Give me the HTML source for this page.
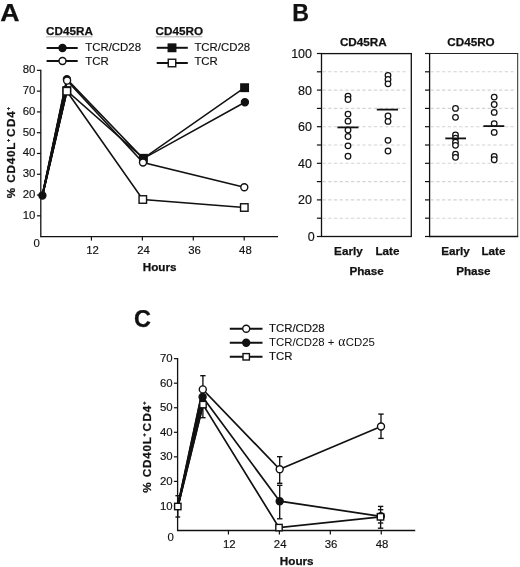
<!DOCTYPE html>
<html><head><meta charset="utf-8"><title>Figure</title>
<style>
html,body{margin:0;padding:0;background:#fff;}
body{width:520px;height:567px;overflow:hidden;}
svg{display:block;will-change:transform;}
svg text{font-family:"Liberation Sans",sans-serif;fill:#111;}
</style></head><body>
<svg width="520" height="567" viewBox="0 0 520 567">
<rect x="0" y="0" width="520" height="567" fill="#ffffff"/>
<text x="0.30" y="20.60" text-anchor="start" font-size="23.5" font-weight="700" stroke="#111" stroke-width="0.25" textLength="19.3" lengthAdjust="spacingAndGlyphs">A</text>
<line x1="40.80" y1="69.75" x2="40.80" y2="237.25" stroke="#111" stroke-width="1.3" />
<line x1="40.80" y1="236.60" x2="278.00" y2="236.60" stroke="#111" stroke-width="1.3" />
<line x1="36.90" y1="215.82" x2="40.80" y2="215.82" stroke="#111" stroke-width="1.2" />
<text x="35.40" y="218.72" text-anchor="end" font-size="11.4" stroke="#111" stroke-width="0.15" >10</text>
<line x1="36.90" y1="195.04" x2="40.80" y2="195.04" stroke="#111" stroke-width="1.2" />
<text x="35.40" y="197.94" text-anchor="end" font-size="11.4" stroke="#111" stroke-width="0.15" >20</text>
<line x1="36.90" y1="174.26" x2="40.80" y2="174.26" stroke="#111" stroke-width="1.2" />
<text x="35.40" y="177.16" text-anchor="end" font-size="11.4" stroke="#111" stroke-width="0.15" >30</text>
<line x1="36.90" y1="153.48" x2="40.80" y2="153.48" stroke="#111" stroke-width="1.2" />
<text x="35.40" y="156.38" text-anchor="end" font-size="11.4" stroke="#111" stroke-width="0.15" >40</text>
<line x1="36.90" y1="132.70" x2="40.80" y2="132.70" stroke="#111" stroke-width="1.2" />
<text x="35.40" y="135.60" text-anchor="end" font-size="11.4" stroke="#111" stroke-width="0.15" >50</text>
<line x1="36.90" y1="111.92" x2="40.80" y2="111.92" stroke="#111" stroke-width="1.2" />
<text x="35.40" y="114.82" text-anchor="end" font-size="11.4" stroke="#111" stroke-width="0.15" >60</text>
<line x1="36.90" y1="91.14" x2="40.80" y2="91.14" stroke="#111" stroke-width="1.2" />
<text x="35.40" y="94.04" text-anchor="end" font-size="11.4" stroke="#111" stroke-width="0.15" >70</text>
<line x1="36.90" y1="70.36" x2="40.80" y2="70.36" stroke="#111" stroke-width="1.2" />
<text x="35.40" y="73.26" text-anchor="end" font-size="11.4" stroke="#111" stroke-width="0.15" >80</text>
<line x1="91.43" y1="236.60" x2="91.43" y2="240.60" stroke="#111" stroke-width="1.2" />
<text x="92.63" y="253.60" text-anchor="middle" font-size="11.4" stroke="#111" stroke-width="0.15" >12</text>
<line x1="142.36" y1="236.60" x2="142.36" y2="240.60" stroke="#111" stroke-width="1.2" />
<text x="143.56" y="253.60" text-anchor="middle" font-size="11.4" stroke="#111" stroke-width="0.15" >24</text>
<line x1="193.28" y1="236.60" x2="193.28" y2="240.60" stroke="#111" stroke-width="1.2" />
<text x="194.48" y="253.60" text-anchor="middle" font-size="11.4" stroke="#111" stroke-width="0.15" >36</text>
<line x1="244.21" y1="236.60" x2="244.21" y2="240.60" stroke="#111" stroke-width="1.2" />
<text x="245.41" y="253.60" text-anchor="middle" font-size="11.4" stroke="#111" stroke-width="0.15" >48</text>
<text x="36.60" y="247.40" text-anchor="middle" font-size="11.4" stroke="#111" stroke-width="0.15" >0</text>
<text x="159.60" y="270.70" text-anchor="middle" font-size="11.7" font-weight="700" stroke="#111" stroke-width="0.25" >Hours</text>
<text transform="translate(14.5,198.3) rotate(-90)" font-size="11.7" font-weight="700" stroke="#111" stroke-width="0.25" letter-spacing="0.75">%<tspan dx="4.4">CD40L</tspan><tspan font-size="5.5" dy="-4.6" dx="0.0">+</tspan><tspan dy="4.6" dx="0.9">C</tspan><tspan dx="0.9">D4</tspan><tspan font-size="5.5" dy="-4.6" dx="0.2">+</tspan></text>
<text x="46.10" y="34.90" text-anchor="start" font-size="11.7" font-weight="700" stroke="#111" stroke-width="0.25" >CD45RA</text>
<line x1="46.10" y1="36.80" x2="92.40" y2="36.80" stroke="#999" stroke-width="0.8" />
<text x="155.60" y="34.90" text-anchor="start" font-size="11.7" font-weight="700" stroke="#111" stroke-width="0.25" >CD45RO</text>
<line x1="155.60" y1="36.80" x2="202.40" y2="36.80" stroke="#999" stroke-width="0.8" />
<line x1="46.60" y1="48.00" x2="77.70" y2="48.00" stroke="#111" stroke-width="2.0" />
<circle cx="62.50" cy="48.00" r="3.5" fill="#111" stroke="#111" stroke-width="1.4"/>
<line x1="46.60" y1="61.00" x2="77.70" y2="61.00" stroke="#111" stroke-width="2.0" />
<circle cx="62.50" cy="61.00" r="3.5" fill="#fff" stroke="#111" stroke-width="1.4"/>
<text x="85.30" y="51.20" text-anchor="start" font-size="11.4" stroke="#111" stroke-width="0.15" >TCR/CD28</text>
<text x="85.30" y="64.50" text-anchor="start" font-size="11.4" stroke="#111" stroke-width="0.15" >TCR</text>
<line x1="156.70" y1="47.80" x2="187.80" y2="47.80" stroke="#111" stroke-width="2.0" />
<rect x="168.25" y="44.05" width="7.5" height="7.5" fill="#111" stroke="#111" stroke-width="1.4"/>
<line x1="156.70" y1="63.00" x2="187.80" y2="63.00" stroke="#111" stroke-width="2.0" />
<rect x="168.25" y="59.25" width="7.5" height="7.5" fill="#fff" stroke="#111" stroke-width="1.4"/>
<text x="194.40" y="51.20" text-anchor="start" font-size="11.4" stroke="#111" stroke-width="0.15" >TCR/CD28</text>
<text x="194.40" y="64.50" text-anchor="start" font-size="11.4" stroke="#111" stroke-width="0.15" >TCR</text>
<polyline points="42.40,195.50 66.80,90.60 143.40,158.30 244.60,87.70" fill="none" stroke="#111" stroke-width="1.55" stroke-linejoin="miter"/>
<polyline points="42.40,195.50 66.90,79.20 143.20,158.60 244.90,102.20" fill="none" stroke="#111" stroke-width="1.55" stroke-linejoin="miter"/>
<polyline points="42.40,195.50 66.80,91.20 142.80,199.50 244.30,207.50" fill="none" stroke="#111" stroke-width="1.55" stroke-linejoin="miter"/>
<polyline points="42.40,195.50 67.10,80.60 143.00,162.50 244.30,187.30" fill="none" stroke="#111" stroke-width="1.55" stroke-linejoin="miter"/>
<polyline points="42.40,195.50 66.80,90.60" fill="none" stroke="#111" stroke-width="1.95" stroke-linejoin="miter"/>
<polyline points="42.40,195.50 66.90,79.20" fill="none" stroke="#111" stroke-width="1.95" stroke-linejoin="miter"/>
<polyline points="42.40,195.50 66.80,91.20" fill="none" stroke="#111" stroke-width="1.95" stroke-linejoin="miter"/>
<polyline points="42.40,195.50 67.10,80.60" fill="none" stroke="#111" stroke-width="1.95" stroke-linejoin="miter"/>
<circle cx="42.40" cy="195.50" r="3.5" fill="#111" stroke="#111" stroke-width="1.4"/>
<rect x="63.05" y="86.85" width="7.5" height="7.5" fill="#111" stroke="#111" stroke-width="1.4"/>
<rect x="139.65" y="154.55" width="7.5" height="7.5" fill="#111" stroke="#111" stroke-width="1.4"/>
<rect x="240.85" y="83.95" width="7.5" height="7.5" fill="#111" stroke="#111" stroke-width="1.4"/>
<circle cx="66.90" cy="79.20" r="3.5" fill="#111" stroke="#111" stroke-width="1.4"/>
<circle cx="143.20" cy="158.60" r="3.5" fill="#111" stroke="#111" stroke-width="1.4"/>
<circle cx="244.90" cy="102.20" r="3.5" fill="#111" stroke="#111" stroke-width="1.4"/>
<rect x="63.05" y="87.45" width="7.5" height="7.5" fill="#fff" stroke="#111" stroke-width="1.4"/>
<rect x="139.05" y="195.75" width="7.5" height="7.5" fill="#fff" stroke="#111" stroke-width="1.4"/>
<rect x="240.55" y="203.75" width="7.5" height="7.5" fill="#fff" stroke="#111" stroke-width="1.4"/>
<circle cx="67.10" cy="80.60" r="3.5" fill="#fff" stroke="#111" stroke-width="1.4"/>
<circle cx="143.00" cy="162.50" r="3.5" fill="#fff" stroke="#111" stroke-width="1.4"/>
<circle cx="244.30" cy="187.30" r="3.5" fill="#fff" stroke="#111" stroke-width="1.4"/>
<text x="292.20" y="21.00" text-anchor="start" font-size="23.2" font-weight="700" stroke="#111" stroke-width="0.25" >B</text>
<line x1="322.50" y1="218.20" x2="408.30" y2="218.20" stroke="#d4d4d4" stroke-width="1.1" stroke-dasharray="3.3 2.4"/>
<line x1="322.50" y1="199.90" x2="408.30" y2="199.90" stroke="#d4d4d4" stroke-width="1.1" stroke-dasharray="3.3 2.4"/>
<line x1="322.50" y1="181.60" x2="408.30" y2="181.60" stroke="#d4d4d4" stroke-width="1.1" stroke-dasharray="3.3 2.4"/>
<line x1="322.50" y1="163.30" x2="408.30" y2="163.30" stroke="#d4d4d4" stroke-width="1.1" stroke-dasharray="3.3 2.4"/>
<line x1="322.50" y1="145.00" x2="408.30" y2="145.00" stroke="#d4d4d4" stroke-width="1.1" stroke-dasharray="3.3 2.4"/>
<line x1="322.50" y1="126.70" x2="408.30" y2="126.70" stroke="#d4d4d4" stroke-width="1.1" stroke-dasharray="3.3 2.4"/>
<line x1="322.50" y1="108.40" x2="408.30" y2="108.40" stroke="#d4d4d4" stroke-width="1.1" stroke-dasharray="3.3 2.4"/>
<line x1="322.50" y1="90.10" x2="408.30" y2="90.10" stroke="#d4d4d4" stroke-width="1.1" stroke-dasharray="3.3 2.4"/>
<line x1="322.50" y1="71.80" x2="408.30" y2="71.80" stroke="#d4d4d4" stroke-width="1.1" stroke-dasharray="3.3 2.4"/>
<rect x="321.5" y="53.6" width="89.80000000000001" height="182.9" fill="none" stroke="#111" stroke-width="1.3"/>
<line x1="316.90" y1="236.50" x2="321.50" y2="236.50" stroke="#111" stroke-width="1.2" />
<line x1="316.90" y1="218.20" x2="321.50" y2="218.20" stroke="#111" stroke-width="1.2" />
<line x1="316.90" y1="199.90" x2="321.50" y2="199.90" stroke="#111" stroke-width="1.2" />
<line x1="316.90" y1="181.60" x2="321.50" y2="181.60" stroke="#111" stroke-width="1.2" />
<line x1="316.90" y1="163.30" x2="321.50" y2="163.30" stroke="#111" stroke-width="1.2" />
<line x1="316.90" y1="145.00" x2="321.50" y2="145.00" stroke="#111" stroke-width="1.2" />
<line x1="316.90" y1="126.70" x2="321.50" y2="126.70" stroke="#111" stroke-width="1.2" />
<line x1="316.90" y1="108.40" x2="321.50" y2="108.40" stroke="#111" stroke-width="1.2" />
<line x1="316.90" y1="90.10" x2="321.50" y2="90.10" stroke="#111" stroke-width="1.2" />
<line x1="316.90" y1="71.80" x2="321.50" y2="71.80" stroke="#111" stroke-width="1.2" />
<line x1="316.90" y1="53.50" x2="321.50" y2="53.50" stroke="#111" stroke-width="1.2" />
<text x="363.30" y="46.10" text-anchor="middle" font-size="11.7" font-weight="700" stroke="#111" stroke-width="0.25" >CD45RA</text>
<line x1="430.60" y1="218.20" x2="514.70" y2="218.20" stroke="#d4d4d4" stroke-width="1.1" stroke-dasharray="3.3 2.4"/>
<line x1="430.60" y1="199.90" x2="514.70" y2="199.90" stroke="#d4d4d4" stroke-width="1.1" stroke-dasharray="3.3 2.4"/>
<line x1="430.60" y1="181.60" x2="514.70" y2="181.60" stroke="#d4d4d4" stroke-width="1.1" stroke-dasharray="3.3 2.4"/>
<line x1="430.60" y1="163.30" x2="514.70" y2="163.30" stroke="#d4d4d4" stroke-width="1.1" stroke-dasharray="3.3 2.4"/>
<line x1="430.60" y1="145.00" x2="514.70" y2="145.00" stroke="#d4d4d4" stroke-width="1.1" stroke-dasharray="3.3 2.4"/>
<line x1="430.60" y1="126.70" x2="514.70" y2="126.70" stroke="#d4d4d4" stroke-width="1.1" stroke-dasharray="3.3 2.4"/>
<line x1="430.60" y1="108.40" x2="514.70" y2="108.40" stroke="#d4d4d4" stroke-width="1.1" stroke-dasharray="3.3 2.4"/>
<line x1="430.60" y1="90.10" x2="514.70" y2="90.10" stroke="#d4d4d4" stroke-width="1.1" stroke-dasharray="3.3 2.4"/>
<line x1="430.60" y1="71.80" x2="514.70" y2="71.80" stroke="#d4d4d4" stroke-width="1.1" stroke-dasharray="3.3 2.4"/>
<line x1="429.60" y1="53.50" x2="518.20" y2="53.50" stroke="#222" stroke-width="1.0" />
<line x1="517.70" y1="53.50" x2="517.70" y2="236.50" stroke="#2a2a2a" stroke-width="1.0" />
<line x1="429.60" y1="53.10" x2="429.60" y2="237.15" stroke="#111" stroke-width="1.3" />
<line x1="429.60" y1="236.50" x2="518.20" y2="236.50" stroke="#111" stroke-width="1.3" />
<line x1="425.00" y1="236.50" x2="429.60" y2="236.50" stroke="#111" stroke-width="1.2" />
<line x1="425.00" y1="218.20" x2="429.60" y2="218.20" stroke="#111" stroke-width="1.2" />
<line x1="425.00" y1="199.90" x2="429.60" y2="199.90" stroke="#111" stroke-width="1.2" />
<line x1="425.00" y1="181.60" x2="429.60" y2="181.60" stroke="#111" stroke-width="1.2" />
<line x1="425.00" y1="163.30" x2="429.60" y2="163.30" stroke="#111" stroke-width="1.2" />
<line x1="425.00" y1="145.00" x2="429.60" y2="145.00" stroke="#111" stroke-width="1.2" />
<line x1="425.00" y1="126.70" x2="429.60" y2="126.70" stroke="#111" stroke-width="1.2" />
<line x1="425.00" y1="108.40" x2="429.60" y2="108.40" stroke="#111" stroke-width="1.2" />
<line x1="425.00" y1="90.10" x2="429.60" y2="90.10" stroke="#111" stroke-width="1.2" />
<line x1="425.00" y1="71.80" x2="429.60" y2="71.80" stroke="#111" stroke-width="1.2" />
<line x1="425.00" y1="53.50" x2="429.60" y2="53.50" stroke="#111" stroke-width="1.2" />
<text x="471.00" y="46.10" text-anchor="middle" font-size="11.7" font-weight="700" stroke="#111" stroke-width="0.25" >CD45RO</text>
<text x="314.60" y="240.90" text-anchor="end" font-size="12.5" stroke="#111" stroke-width="0.15" >0</text>
<text x="312.00" y="204.30" text-anchor="end" font-size="12.5" stroke="#111" stroke-width="0.15" >20</text>
<text x="312.00" y="167.70" text-anchor="end" font-size="12.5" stroke="#111" stroke-width="0.15" >40</text>
<text x="312.00" y="131.10" text-anchor="end" font-size="12.5" stroke="#111" stroke-width="0.15" >60</text>
<text x="312.00" y="94.50" text-anchor="end" font-size="12.5" stroke="#111" stroke-width="0.15" >80</text>
<text x="312.00" y="57.90" text-anchor="end" font-size="12.5" stroke="#111" stroke-width="0.15" >100</text>
<circle cx="348.00" cy="96.10" r="2.8" fill="#fff" stroke="#111" stroke-width="1.25"/>
<circle cx="348.00" cy="99.50" r="2.8" fill="#fff" stroke="#111" stroke-width="1.25"/>
<circle cx="348.00" cy="114.10" r="2.8" fill="#fff" stroke="#111" stroke-width="1.25"/>
<circle cx="348.00" cy="121.20" r="2.8" fill="#fff" stroke="#111" stroke-width="1.25"/>
<circle cx="348.00" cy="130.00" r="2.8" fill="#fff" stroke="#111" stroke-width="1.25"/>
<circle cx="348.00" cy="136.50" r="2.8" fill="#fff" stroke="#111" stroke-width="1.25"/>
<circle cx="348.00" cy="145.80" r="2.8" fill="#fff" stroke="#111" stroke-width="1.25"/>
<circle cx="348.00" cy="156.20" r="2.8" fill="#fff" stroke="#111" stroke-width="1.25"/>
<circle cx="388.00" cy="75.30" r="2.8" fill="#fff" stroke="#111" stroke-width="1.25"/>
<circle cx="388.00" cy="79.50" r="2.8" fill="#fff" stroke="#111" stroke-width="1.25"/>
<circle cx="388.00" cy="83.80" r="2.8" fill="#fff" stroke="#111" stroke-width="1.25"/>
<circle cx="388.00" cy="116.00" r="2.8" fill="#fff" stroke="#111" stroke-width="1.25"/>
<circle cx="388.00" cy="121.40" r="2.8" fill="#fff" stroke="#111" stroke-width="1.25"/>
<circle cx="388.00" cy="140.30" r="2.8" fill="#fff" stroke="#111" stroke-width="1.25"/>
<circle cx="388.00" cy="151.00" r="2.8" fill="#fff" stroke="#111" stroke-width="1.25"/>
<line x1="337.40" y1="127.40" x2="358.50" y2="127.40" stroke="#111" stroke-width="1.8" />
<line x1="376.80" y1="109.60" x2="398.00" y2="109.60" stroke="#111" stroke-width="1.8" />
<circle cx="455.50" cy="108.40" r="2.8" fill="#fff" stroke="#111" stroke-width="1.25"/>
<circle cx="455.50" cy="117.30" r="2.8" fill="#fff" stroke="#111" stroke-width="1.25"/>
<circle cx="455.50" cy="135.00" r="2.8" fill="#fff" stroke="#111" stroke-width="1.25"/>
<circle cx="455.50" cy="138.10" r="2.8" fill="#fff" stroke="#111" stroke-width="1.25"/>
<circle cx="455.50" cy="142.20" r="2.8" fill="#fff" stroke="#111" stroke-width="1.25"/>
<circle cx="455.50" cy="145.30" r="2.8" fill="#fff" stroke="#111" stroke-width="1.25"/>
<circle cx="455.50" cy="154.20" r="2.8" fill="#fff" stroke="#111" stroke-width="1.25"/>
<circle cx="455.50" cy="157.30" r="2.8" fill="#fff" stroke="#111" stroke-width="1.25"/>
<circle cx="494.20" cy="97.10" r="2.8" fill="#fff" stroke="#111" stroke-width="1.25"/>
<circle cx="494.20" cy="104.50" r="2.8" fill="#fff" stroke="#111" stroke-width="1.25"/>
<circle cx="494.20" cy="112.40" r="2.8" fill="#fff" stroke="#111" stroke-width="1.25"/>
<circle cx="494.20" cy="123.60" r="2.8" fill="#fff" stroke="#111" stroke-width="1.25"/>
<circle cx="494.20" cy="132.40" r="2.8" fill="#fff" stroke="#111" stroke-width="1.25"/>
<circle cx="494.20" cy="156.50" r="2.8" fill="#fff" stroke="#111" stroke-width="1.25"/>
<circle cx="494.20" cy="159.70" r="2.8" fill="#fff" stroke="#111" stroke-width="1.25"/>
<line x1="445.30" y1="138.40" x2="466.00" y2="138.40" stroke="#111" stroke-width="1.8" />
<line x1="483.40" y1="126.10" x2="504.30" y2="126.10" stroke="#111" stroke-width="1.8" />
<text x="348.40" y="254.50" text-anchor="middle" font-size="11.7" font-weight="700" stroke="#111" stroke-width="0.25" >Early</text>
<text x="387.40" y="254.50" text-anchor="middle" font-size="11.7" font-weight="700" stroke="#111" stroke-width="0.25" >Late</text>
<text x="455.50" y="254.50" text-anchor="middle" font-size="11.7" font-weight="700" stroke="#111" stroke-width="0.25" >Early</text>
<text x="493.50" y="254.50" text-anchor="middle" font-size="11.7" font-weight="700" stroke="#111" stroke-width="0.25" >Late</text>
<text x="366.60" y="274.90" text-anchor="middle" font-size="11.7" font-weight="700" stroke="#111" stroke-width="0.25" >Phase</text>
<text x="473.40" y="274.90" text-anchor="middle" font-size="11.7" font-weight="700" stroke="#111" stroke-width="0.25" >Phase</text>
<text x="134.10" y="327.20" text-anchor="start" font-size="23.5" font-weight="700" stroke="#111" stroke-width="0.25" >C</text>
<line x1="177.60" y1="358.05" x2="177.60" y2="531.15" stroke="#111" stroke-width="1.3" />
<line x1="177.60" y1="530.50" x2="415.20" y2="530.50" stroke="#111" stroke-width="1.3" />
<line x1="173.90" y1="505.95" x2="177.60" y2="505.95" stroke="#111" stroke-width="1.2" />
<text x="172.60" y="509.55" text-anchor="end" font-size="11.4" stroke="#111" stroke-width="0.15" >10</text>
<line x1="173.90" y1="481.40" x2="177.60" y2="481.40" stroke="#111" stroke-width="1.2" />
<text x="172.60" y="485.00" text-anchor="end" font-size="11.4" stroke="#111" stroke-width="0.15" >20</text>
<line x1="173.90" y1="456.85" x2="177.60" y2="456.85" stroke="#111" stroke-width="1.2" />
<text x="172.60" y="460.45" text-anchor="end" font-size="11.4" stroke="#111" stroke-width="0.15" >30</text>
<line x1="173.90" y1="432.30" x2="177.60" y2="432.30" stroke="#111" stroke-width="1.2" />
<text x="172.60" y="435.90" text-anchor="end" font-size="11.4" stroke="#111" stroke-width="0.15" >40</text>
<line x1="173.90" y1="407.75" x2="177.60" y2="407.75" stroke="#111" stroke-width="1.2" />
<text x="172.60" y="411.35" text-anchor="end" font-size="11.4" stroke="#111" stroke-width="0.15" >50</text>
<line x1="173.90" y1="383.20" x2="177.60" y2="383.20" stroke="#111" stroke-width="1.2" />
<text x="172.60" y="386.80" text-anchor="end" font-size="11.4" stroke="#111" stroke-width="0.15" >60</text>
<line x1="173.90" y1="358.65" x2="177.60" y2="358.65" stroke="#111" stroke-width="1.2" />
<text x="172.60" y="362.25" text-anchor="end" font-size="11.4" stroke="#111" stroke-width="0.15" >70</text>
<line x1="228.44" y1="530.50" x2="228.44" y2="534.50" stroke="#111" stroke-width="1.2" />
<text x="229.24" y="547.80" text-anchor="middle" font-size="11.4" stroke="#111" stroke-width="0.15" >12</text>
<line x1="279.38" y1="530.50" x2="279.38" y2="534.50" stroke="#111" stroke-width="1.2" />
<text x="280.18" y="547.80" text-anchor="middle" font-size="11.4" stroke="#111" stroke-width="0.15" >24</text>
<line x1="330.32" y1="530.50" x2="330.32" y2="534.50" stroke="#111" stroke-width="1.2" />
<text x="331.12" y="547.80" text-anchor="middle" font-size="11.4" stroke="#111" stroke-width="0.15" >36</text>
<line x1="381.26" y1="530.50" x2="381.26" y2="534.50" stroke="#111" stroke-width="1.2" />
<text x="382.06" y="547.80" text-anchor="middle" font-size="11.4" stroke="#111" stroke-width="0.15" >48</text>
<text x="170.60" y="540.70" text-anchor="middle" font-size="11.4" stroke="#111" stroke-width="0.15" >0</text>
<text x="296.70" y="565.10" text-anchor="middle" font-size="11.7" font-weight="700" stroke="#111" stroke-width="0.25" >Hours</text>
<text transform="translate(150.6,492.8) rotate(-90)" font-size="11.7" font-weight="700" stroke="#111" stroke-width="0.25" letter-spacing="0.75">%<tspan dx="4.4">CD40L</tspan><tspan font-size="5.5" dy="-4.6" dx="0.0">+</tspan><tspan dy="4.6" dx="0.9">C</tspan><tspan dx="0.9">D4</tspan><tspan font-size="5.5" dy="-4.6" dx="0.2">+</tspan></text>
<line x1="229.80" y1="328.70" x2="262.50" y2="328.70" stroke="#111" stroke-width="2.0" />
<circle cx="246.20" cy="328.70" r="3.5" fill="#fff" stroke="#111" stroke-width="1.4"/>
<line x1="229.80" y1="342.80" x2="262.50" y2="342.80" stroke="#111" stroke-width="2.0" />
<circle cx="246.20" cy="342.80" r="3.5" fill="#111" stroke="#111" stroke-width="1.4"/>
<line x1="229.80" y1="356.80" x2="262.50" y2="356.80" stroke="#111" stroke-width="2.0" />
<rect x="243.00" y="353.60" width="6.4" height="6.4" fill="#fff" stroke="#111" stroke-width="1.4"/>
<text x="269.00" y="332.20" text-anchor="start" font-size="11.4" stroke="#111" stroke-width="0.15" >TCR/CD28</text>
<text x="269" y="346.2" font-size="11.4">TCR/CD28 + <tspan font-family="Liberation Serif" font-size="13.6" dx="0.5">α</tspan><tspan dx="0.5">CD25</tspan></text>
<text x="269.00" y="360.20" text-anchor="start" font-size="11.4" stroke="#111" stroke-width="0.15" >TCR</text>
<line x1="177.80" y1="495.70" x2="177.80" y2="517.00" stroke="#111" stroke-width="1.35" />
<line x1="175.40" y1="495.70" x2="180.20" y2="495.70" stroke="#111" stroke-width="1.35" />
<line x1="175.40" y1="517.00" x2="180.20" y2="517.00" stroke="#111" stroke-width="1.35" />
<line x1="202.90" y1="375.70" x2="202.90" y2="417.70" stroke="#111" stroke-width="1.35" />
<line x1="200.20" y1="375.70" x2="205.60" y2="375.70" stroke="#111" stroke-width="1.35" />
<line x1="200.20" y1="417.70" x2="205.60" y2="417.70" stroke="#111" stroke-width="1.35" />
<line x1="279.70" y1="456.70" x2="279.70" y2="483.30" stroke="#111" stroke-width="1.35" />
<line x1="277.00" y1="456.70" x2="282.40" y2="456.70" stroke="#111" stroke-width="1.35" />
<line x1="277.00" y1="483.30" x2="282.40" y2="483.30" stroke="#111" stroke-width="1.35" />
<line x1="279.70" y1="485.30" x2="279.70" y2="518.80" stroke="#111" stroke-width="1.35" />
<line x1="277.00" y1="485.30" x2="282.40" y2="485.30" stroke="#111" stroke-width="1.35" />
<line x1="277.00" y1="518.80" x2="282.40" y2="518.80" stroke="#111" stroke-width="1.35" />
<line x1="381.00" y1="414.10" x2="381.00" y2="438.40" stroke="#111" stroke-width="1.35" />
<line x1="378.30" y1="414.10" x2="383.70" y2="414.10" stroke="#111" stroke-width="1.35" />
<line x1="378.30" y1="438.40" x2="383.70" y2="438.40" stroke="#111" stroke-width="1.35" />
<line x1="380.60" y1="506.40" x2="380.60" y2="528.20" stroke="#111" stroke-width="1.35" />
<line x1="377.90" y1="506.40" x2="383.30" y2="506.40" stroke="#111" stroke-width="1.35" />
<line x1="377.90" y1="528.20" x2="383.30" y2="528.20" stroke="#111" stroke-width="1.35" />
<line x1="377.90" y1="509.70" x2="383.30" y2="509.70" stroke="#111" stroke-width="1.35" />
<line x1="377.90" y1="523.00" x2="383.30" y2="523.00" stroke="#111" stroke-width="1.35" />
<polyline points="177.80,506.50 202.80,389.40 279.70,469.30 381.00,426.50" fill="none" stroke="#111" stroke-width="1.7" stroke-linejoin="miter"/>
<polyline points="177.80,506.50 202.60,397.00 279.70,501.20 380.80,516.30" fill="none" stroke="#111" stroke-width="1.7" stroke-linejoin="miter"/>
<polyline points="177.80,506.50 203.00,404.60 279.00,527.60 380.50,516.80" fill="none" stroke="#111" stroke-width="1.7" stroke-linejoin="miter"/>
<polyline points="177.80,506.50 202.80,389.40" fill="none" stroke="#111" stroke-width="2.1" stroke-linejoin="miter"/>
<polyline points="177.80,506.50 202.60,397.00" fill="none" stroke="#111" stroke-width="2.1" stroke-linejoin="miter"/>
<polyline points="177.80,506.50 203.00,404.60" fill="none" stroke="#111" stroke-width="2.1" stroke-linejoin="miter"/>
<circle cx="202.60" cy="397.00" r="3.5" fill="#111" stroke="#111" stroke-width="1.4"/>
<circle cx="279.70" cy="501.20" r="3.5" fill="#111" stroke="#111" stroke-width="1.4"/>
<circle cx="380.80" cy="516.30" r="3.5" fill="#111" stroke="#111" stroke-width="1.4"/>
<circle cx="202.80" cy="389.40" r="3.5" fill="#fff" stroke="#111" stroke-width="1.4"/>
<circle cx="279.70" cy="469.30" r="3.5" fill="#fff" stroke="#111" stroke-width="1.4"/>
<circle cx="381.00" cy="426.50" r="3.5" fill="#fff" stroke="#111" stroke-width="1.4"/>
<rect x="174.60" y="503.30" width="6.4" height="6.4" fill="#fff" stroke="#111" stroke-width="1.4"/>
<rect x="199.80" y="401.40" width="6.4" height="6.4" fill="#fff" stroke="#111" stroke-width="1.4"/>
<rect x="275.80" y="524.40" width="6.4" height="6.4" fill="#fff" stroke="#111" stroke-width="1.4"/>
<rect x="377.30" y="513.60" width="6.4" height="6.4" fill="#fff" stroke="#111" stroke-width="1.4"/>
</svg>
</body></html>
